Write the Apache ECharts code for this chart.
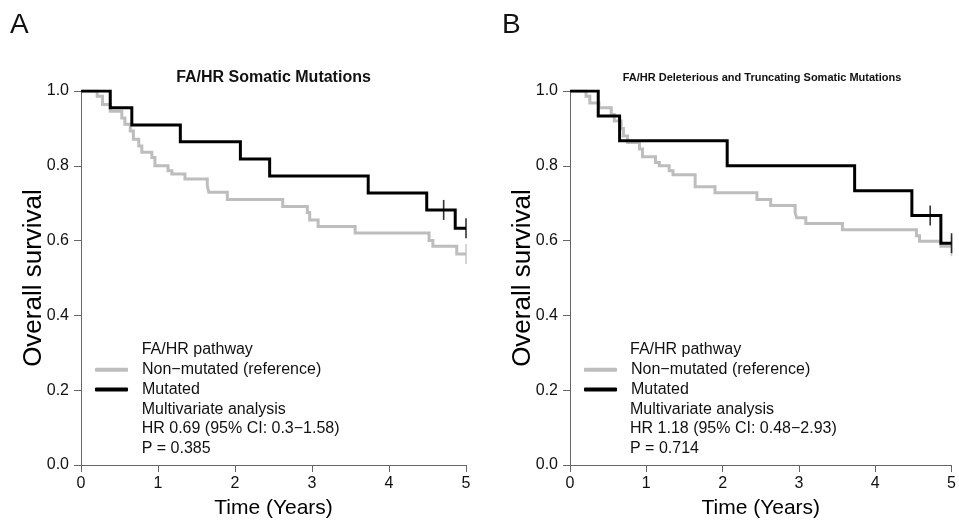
<!DOCTYPE html>
<html>
<head>
<meta charset="utf-8">
<script src="https://cdn.jsdelivr.net/npm/echarts@6/dist/echarts.min.js"></script>
<style>
  html, body { margin: 0; padding: 0; background: #fff; }
  #chart { width: 959px; height: 524px; }
</style>
</head>
<body>
<div id="chart"></div>
<script>
// panel A: FA/HR somatic mutations
var timeA_mut = [0, 0.38, 0.66, 1.29, 2.07, 2.45, 3.73, 4.49, 4.86, 5];
var survA_mut = [1, 0.955, 0.909, 0.864, 0.818, 0.773, 0.727, 0.682, 0.633, 0.633];
var censA_mut_t = [4.71, 5];
var censA_mut_s = [0.682, 0.633];

var timeA_non = [0, 0.21, 0.28, 0.38, 0.53, 0.57, 0.64, 0.68, 0.75, 0.79, 0.92, 0.96, 1.13, 1.18, 1.35, 1.64, 1.66, 1.90, 2.62, 2.94, 2.97, 3.08, 3.56, 4.52, 4.57, 4.88, 5];
var survA_non = [1, 0.986, 0.964, 0.946, 0.928, 0.911, 0.893, 0.871, 0.853, 0.836, 0.822, 0.80, 0.787, 0.778, 0.765, 0.747, 0.729, 0.710, 0.691, 0.675, 0.655, 0.638, 0.62, 0.60, 0.585, 0.564, 0.564];
var censA_non_t = [5];
var censA_non_s = [0.564];

// panel B: deleterious and truncating
var timeB_mut = [0, 0.37, 0.65, 2.06, 3.73, 4.48, 4.86, 5];
var survB_mut = [1, 0.933, 0.867, 0.80, 0.733, 0.667, 0.593, 0.593];
var censB_mut_t = [4.72, 5];
var censB_mut_s = [0.667, 0.593];

var timeB_non = [0, 0.21, 0.26, 0.38, 0.54, 0.58, 0.67, 0.70, 0.755, 0.91, 0.95, 1.12, 1.17, 1.30, 1.35, 1.64, 1.90, 2.45, 2.63, 2.95, 2.97, 3.09, 3.57, 4.54, 4.58, 4.86, 5];
var survB_non = [1, 0.986, 0.968, 0.955, 0.937, 0.92, 0.90, 0.88, 0.862, 0.845, 0.824, 0.809, 0.80, 0.787, 0.776, 0.744, 0.728, 0.71, 0.694, 0.675, 0.661, 0.646, 0.629, 0.613, 0.598, 0.585, 0.585];
var censB_non_t = [5];
var censB_non_s = [0.585];

var xTicks = [0, 1, 2, 3, 4, 5];
var yTicks = [0, 0.2, 0.4, 0.6, 0.8, 1.0];

var nameNon = "Non\u2212mutated (reference)";
var nameMut = "Mutated";
var textA = ["FA/HR pathway", "Multivariate analysis", "HR 0.69 (95% CI: 0.3\u22121.58)", "P = 0.385"];
var textB = ["FA/HR pathway", "Multivariate analysis", "HR 1.18 (95% CI: 0.48\u22122.93)", "P = 0.714"];

var FONT = "'Liberation Sans', Arial, sans-serif";
var GRAY = "#bdbdbd";

function pairs(t, s) {
  return t.map(function (v, i) { return [v, s[i]]; });
}

function xAxis(idx) {
  return {
    type: "value", gridIndex: idx, min: xTicks[0], max: xTicks[xTicks.length - 1], interval: 1,
    name: "Time (Years)", nameLocation: "middle", nameGap: 33,
    nameTextStyle: { fontFamily: FONT, fontSize: 21, color: "#000" },
    axisLine: { show: true, lineStyle: { color: "#666", width: 1 } },
    axisTick: { show: true, length: 7, lineStyle: { color: "#666" } },
    axisLabel: { margin: 11, fontFamily: FONT, fontSize: 16, color: "#111" },
    splitLine: { show: false }
  };
}

function yAxis(idx) {
  return {
    type: "value", gridIndex: idx, min: yTicks[0], max: yTicks[yTicks.length - 1], interval: 0.2,
    name: "Overall survival", nameLocation: "middle", nameGap: 34, nameRotate: 90,
    nameMoveOverlap: false,
    nameTextStyle: { fontFamily: FONT, fontSize: 26, color: "#000" },
    axisLine: { show: true, lineStyle: { color: "#666", width: 1 } },
    axisTick: { show: true, length: 7, lineStyle: { color: "#666" } },
    axisLabel: { margin: 12, fontFamily: FONT, fontSize: 16, color: "#111",
      formatter: function (v) { return v.toFixed(1); } },
    splitLine: { show: false }
  };
}

function km(name, idx, t, s, color, z) {
  return {
    type: "line", name: name, xAxisIndex: idx, yAxisIndex: idx,
    step: "end", showSymbol: false, symbol: "none", silent: true, z: z,
    lineStyle: { color: color, width: 3, join: "miter", cap: "butt" },
    itemStyle: { color: color },
    data: pairs(t, s)
  };
}

function cens(idx, t, s, color, z) {
  return {
    type: "scatter", xAxisIndex: idx, yAxisIndex: idx, silent: true, z: z,
    symbol: "rect", symbolSize: [1.6, 20],
    itemStyle: { color: color },
    data: pairs(t, s)
  };
}

function legend(left) {
  return {
    left: left, top: 360, orient: "vertical", padding: 0, itemGap: 0,
    icon: "roundRect", itemWidth: 33, itemHeight: 4, selectedMode: false,
    textStyle: { fontFamily: FONT, fontSize: 16, color: "#111", lineHeight: 19.7, padding: [0, 0, 0, 9] },
    data: [nameNon, nameMut]
  };
}

function txt(x, y, text, font, align) {
  return {
    type: "text", x: x, y: y, silent: true,
    style: { text: text, font: font, fill: "#111",
      align: align, textAlign: align, verticalAlign: "middle", textVerticalAlign: "middle" }
  };
}

function legendText(x, lines) {
  return [
    txt(x, 350, lines[0], "16px " + FONT, "left"),
    txt(x, 409.1, lines[1], "16px " + FONT, "left"),
    txt(x, 428.8, lines[2], "16px " + FONT, "left"),
    txt(x, 448.5, lines[3], "16px " + FONT, "left")
  ];
}

var chart = echarts.init(document.getElementById("chart"));
chart.setOption({
  animation: false,
  backgroundColor: "#fff",
  grid: [
    { left: 81, top: 91, width: 385, height: 377 },
    { left: 570, top: 91, width: 384, height: 377 }
  ],
  xAxis: [xAxis(0), xAxis(1)],
  yAxis: [yAxis(0), yAxis(1)],
  legend: [legend(95), legend(584)],
  graphic: [
    txt(10, 25, "A", "28px " + FONT, "left"),
    txt(502, 25, "B", "28px " + FONT, "left"),
    txt(273.5, 77.5, "FA/HR Somatic Mutations", "bold 16px " + FONT, "center"),
    txt(762, 77.5, "FA/HR Deleterious and Truncating Somatic Mutations", "bold 11px " + FONT, "center")
  ].concat(legendText(141.7, textA)).concat(legendText(630, textB)),
  series: [
    km(nameNon, 0, timeA_non, survA_non, GRAY, 2),
    cens(0, censA_non_t, censA_non_s, GRAY, 2),
    km(nameMut, 0, timeA_mut, survA_mut, "#000", 3),
    cens(0, censA_mut_t, censA_mut_s, "#000", 3),
    km(nameNon, 1, timeB_non, survB_non, GRAY, 2),
    cens(1, censB_non_t, censB_non_s, GRAY, 2),
    km(nameMut, 1, timeB_mut, survB_mut, "#000", 3),
    cens(1, censB_mut_t, censB_mut_s, "#000", 3)
  ]
});
</script>
</body>
</html>
